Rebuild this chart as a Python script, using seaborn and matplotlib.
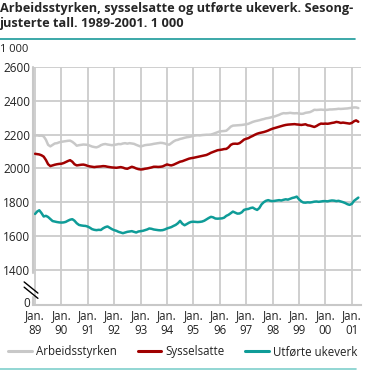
import numpy as np
import pandas as pd
import matplotlib
matplotlib.use("Agg")
import matplotlib.pyplot as plt
import matplotlib.transforms as mtransforms
import seaborn as sns

# Sesongjusterte tall, 1 000, maanedlig jan 1989 - apr 2001
arbeidsstyrken = [
    2195, 2196, 2194, 2195, 2190, 2170, 2140, 2131, 2140, 2148, 2150, 2155,
    2158, 2160, 2162, 2164, 2165, 2158, 2148, 2135, 2138, 2140, 2142, 2141,
    2140, 2135, 2130, 2127, 2125, 2130, 2138, 2143, 2145, 2142, 2140, 2138,
    2140, 2142, 2145, 2144, 2148, 2150, 2147, 2150, 2148, 2146, 2140, 2135,
    2130, 2134, 2138, 2140, 2141, 2143, 2146, 2148, 2150, 2152, 2151, 2148,
    2143, 2141, 2150, 2160, 2167, 2170, 2175, 2178, 2182, 2185, 2187, 2190,
    2194, 2196, 2197, 2196, 2198, 2199, 2200, 2200, 2201, 2205, 2210, 2215,
    2220, 2221, 2222, 2224, 2235, 2248, 2254, 2255, 2256, 2257, 2258, 2260,
    2262, 2265, 2270, 2276, 2280, 2283, 2286, 2290, 2293, 2297, 2299, 2302,
    2306, 2309, 2313, 2318, 2324, 2328, 2327, 2328, 2330, 2328, 2327, 2328,
    2326, 2324, 2325, 2330, 2332, 2334, 2340, 2348, 2347, 2348, 2349, 2348,
    2347, 2348, 2350, 2350, 2351, 2352, 2354, 2353, 2354, 2355, 2356, 2358,
    2360, 2362, 2362, 2358,
]
sysselsatte = [
    2087, 2085, 2083, 2078, 2070, 2050, 2025, 2014, 2018, 2022, 2025, 2027,
    2028, 2032, 2038, 2044, 2049, 2040, 2025, 2018, 2020, 2022, 2023, 2020,
    2015, 2012, 2010, 2008, 2010, 2011, 2012, 2014, 2013, 2010, 2008, 2006,
    2005, 2004, 2006, 2008, 2005, 2000, 1998, 2004, 2010, 2006, 2000, 1996,
    1994, 1995, 1998, 2000, 2003, 2006, 2010, 2010, 2009, 2010, 2012, 2018,
    2024, 2020, 2018, 2022, 2028, 2034, 2040, 2043, 2048, 2053, 2058, 2061,
    2063, 2066, 2069, 2072, 2075, 2077, 2080, 2086, 2093, 2098, 2103, 2108,
    2110, 2112, 2115, 2116, 2125, 2140, 2146, 2147, 2146, 2150, 2160, 2171,
    2176, 2180, 2187, 2193, 2200, 2206, 2210, 2213, 2216, 2220, 2225, 2231,
    2236, 2240, 2244, 2248, 2252, 2255, 2258, 2260, 2261, 2262, 2263, 2261,
    2260, 2258, 2260, 2262, 2256, 2254, 2250, 2246, 2252, 2260, 2266, 2265,
    2266, 2265, 2267, 2270, 2272, 2276, 2274, 2270, 2272, 2270, 2268, 2266,
    2270, 2280, 2285, 2277,
]
ukeverk = [
    1730, 1745, 1752, 1735, 1715, 1719, 1712, 1700, 1688, 1685, 1682, 1680,
    1679, 1680, 1683, 1690, 1696, 1699, 1690, 1675, 1665, 1662, 1660, 1659,
    1655, 1648, 1640, 1636, 1634, 1636, 1635, 1645, 1652, 1656, 1648, 1640,
    1634, 1630, 1624, 1620, 1616, 1620, 1624, 1626, 1628, 1624, 1620, 1626,
    1628, 1630, 1634, 1638, 1644, 1642, 1638, 1636, 1634, 1633, 1634, 1638,
    1644, 1648, 1652, 1659, 1665, 1675, 1689, 1672, 1663, 1670, 1678, 1683,
    1684, 1683, 1682, 1683, 1685, 1690, 1698, 1706, 1713, 1710, 1703, 1702,
    1703, 1704, 1708, 1719, 1725, 1735, 1744, 1738, 1732, 1733, 1740, 1754,
    1758, 1760, 1765, 1768, 1760, 1754, 1765, 1787, 1800, 1808, 1812, 1808,
    1806, 1808, 1810, 1812, 1810, 1814, 1817, 1815, 1820, 1825, 1828, 1833,
    1817, 1805, 1798, 1797, 1799, 1798, 1800, 1803, 1804, 1802, 1804, 1806,
    1806, 1805, 1808, 1810, 1809, 1806, 1808, 1804, 1800, 1795, 1788, 1784,
    1790, 1808, 1817, 1827,
]
serier = ["Arbeidsstyrken", "Sysselsatte", "Utførte ukeverk"]
farger = ["#c8c8c8", "#a00000", "#0f9c98"]
aar_labels = ["89", "90", "91", "92", "93", "94", "95", "96", "97", "98", "99", "00", "01"]
y_ticks = [1400, 1600, 1800, 2000, 2200, 2400, 2600]

maaneder = pd.date_range("1989-01-01", periods=len(arbeidsstyrken), freq="MS")
df = pd.concat([
    pd.DataFrame({"dato": maaneder, "verdi": arbeidsstyrken, "serie": serier[0]}),
    pd.DataFrame({"dato": maaneder, "verdi": sysselsatte, "serie": serier[1]}),
    pd.DataFrame({"dato": maaneder, "verdi": ukeverk, "serie": serier[2]}),
])

sns.set_style("white")
plt.rcParams["font.family"] = ["Open Sans", "DejaVu Sans"]

fig = plt.figure(figsize=(3.66, 3.70), dpi=100)
ax = fig.add_axes([33/366, 65/370, 328/366, 237.7/370])

sns.lineplot(data=df, x="dato", y="verdi", hue="serie", hue_order=serier,
             palette=farger, linewidth=1.8, ax=ax, legend=False)

# akser
y0 = 1190  # "0" paa brutt akse
ax.set_ylim(y0, 2600)
ax.set_xlim(pd.Timestamp("1988-12-04"), pd.Timestamp("2001-05-08"))
jan = pd.date_range("1989-01-01", "2001-01-01", freq="YS")
ax.set_xticks(jan)
ax.set_xticklabels(["Jan.\n" + a for a in aar_labels], fontsize=8.3, color="#222222",
                   linespacing=1.2)
ax.set_yticks([y0] + y_ticks)
ax.set_yticklabels(["0"] + [str(v) for v in y_ticks], fontsize=8.5, color="#222222")
ax.tick_params(length=0, pad=2)
ax.tick_params(axis="x", pad=3)
nul = ax.get_yticklabels()[0]
nul.set_transform(nul.get_transform() + mtransforms.ScaledTranslation(0, 3/100, fig.dpi_scale_trans))
ax.set_xlabel("")
ax.set_ylabel("")

for v in y_ticks:
    ax.axhline(v, color="#cccccc", lw=1.3, zorder=0)
for d in jan:
    ax.axvline(d, color="#cccccc", lw=1.3, zorder=0)

for s in ["top", "right", "left"]:
    ax.spines[s].set_visible(False)
ax.spines["bottom"].set_color("#c8c8c8")
ax.spines["bottom"].set_linewidth(1.5)

# venstre akse med brudd
tr = ax.transAxes
ax.plot([0, 0], [0.135, 1], transform=tr, color="#c8c8c8", lw=1.5, clip_on=False)
ax.plot([0, 0], [0, 0.034], transform=tr, color="#c8c8c8", lw=1.5, clip_on=False)
ax.plot([-0.027, 0.015], [0.097, 0.05], transform=tr, color="black", lw=1.0, clip_on=False)
ax.plot([-0.027, 0.015], [0.075, 0.028], transform=tr, color="black", lw=1.0, clip_on=False)

# tittel
fig.text(0.0, 1 - 2/370, "Arbeidsstyrken, sysselsatte og utførte ukeverk. Sesong-\njusterte tall. 1989-2001. 1 000",
         ha="left", va="top", fontsize=9.2, fontweight="bold", linespacing=1.22)
fig.add_artist(plt.Line2D([0, 355/366], [1 - 38.5/370, 1 - 38.5/370], color="#1a9a9a", lw=1.2))
fig.text(0.0, 1 - 50/370, "1 000", ha="left", va="center", fontsize=8, color="#222222")

# tegnforklaring
handles = [plt.Line2D([], [], color=c, lw=2.2) for c in farger]
fig.legend(handles, serier, loc="center", bbox_to_anchor=(0.5, 1 - 352/370), ncol=3,
           frameon=False, fontsize=8.3, handlelength=2.0, handletextpad=0.4,
           columnspacing=1.8, labelcolor="#222222", borderaxespad=0, borderpad=0)
fig.add_artist(plt.Line2D([0, 356/366], [1 - 368.5/370, 1 - 368.5/370], color="#7fcfcc", lw=1.2))

fig.savefig("out.png", dpi=100)
